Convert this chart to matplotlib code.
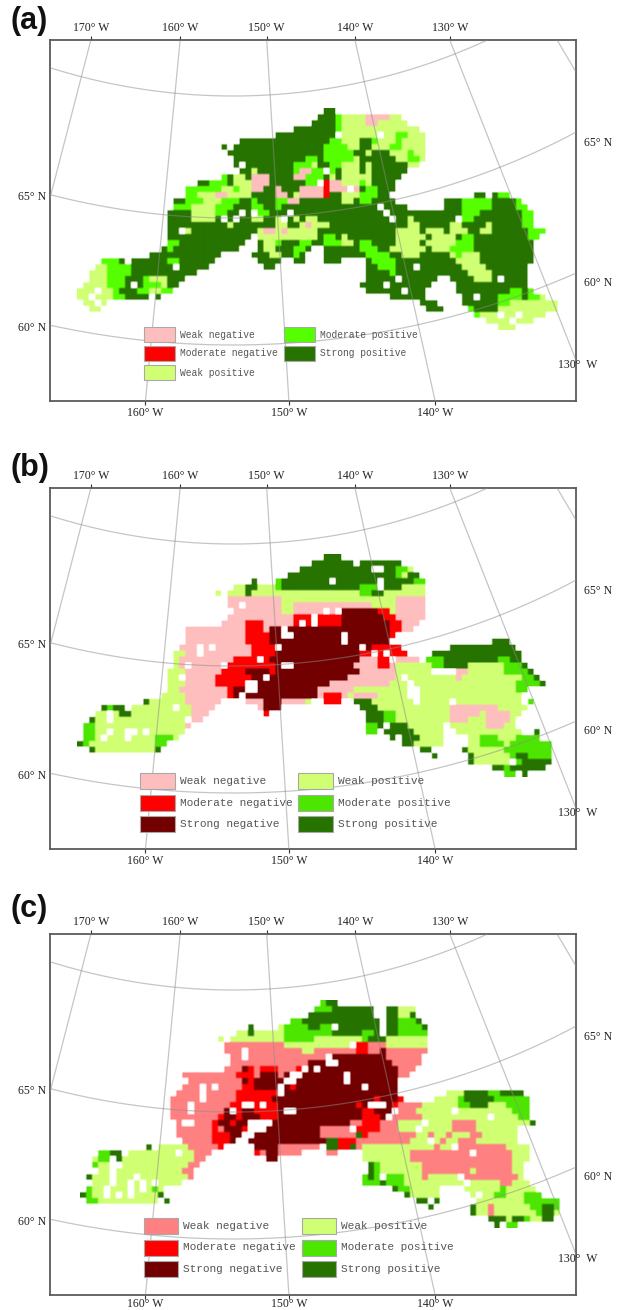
"""Three map panels of weak to strong negative/positive classes over a conic graticule."""
import re

import numpy as np
import matplotlib
matplotlib.use('Agg')
import matplotlib.pyplot as plt
from matplotlib.colors import to_rgb
from matplotlib.patches import Rectangle

# grid cells per row: class letter + column range, later tokens paint over earlier, w = no data
ROWS_A = [
    "f41-42",
    "f40-42 e43 d44-47 a48-51 d52-53",
    "f39-42 e43 d44-47 a48-49 d50-54",
    "f36-42 e43 d44-56",
    "f33-42 e43 d44-57 w43 e53-54 w50",
    "f29 f27-41 e42-43 d44-57 f47-48 e49 e53",
    "f24 f26-40 e41-44 d45-57 e47 f47-48 e52-53",
    "f25-40 e41-45 f46-47 d48 f49-51 d52-57 e55",
    "f26-40 e38-39 e41-45 d46 f47-52 d53-57 e55-56",
    "f26-54 w27 e36-38 d39 e42-43 d44-46 d48 d55-56",
    "f27-54 d29 e36-37 a37-38 e39-40 w41 e42 d44-46 d48",
    "f24-53 e24 d26-27 a29-31 a36-37 e38-40 d42 d44-46 d47-48",
    "f20-52 e22-24 d26-28 a29-31 e38-39 w40 b41 a42-43 d44-46 e47 d48",
    "f18-52 e18-23 d24-25 e26 d27-28 a29-30 a33 a37-40 b41 a42-46 w45 e48-49",
    "f18-51 e18-19 d20-22 a23-24 d25-28 a33-34 d36 a37-40 b41 d44-46 e47-49 f66-67 f69-71 e70-71",
    "f16-52 e18-20 d21-24 e24-26 e29 a33 a35-36 e33-34 d44-45 e47-48 f61-63 e64-68 f69-72 e73",
    "f16-54 e16-18 d19-24 e23-25 e29-30 e33 w50 f61-63 e64-68 f69-72 e73-74",
    "f15-73 d19-22 e23-24 w27 w29 e30-31 w35 w51 e64-66 e74-75",
    "f15-74 d19-22 w24 w26 d29-30 d33 d36 d38-39 w34 w52 d55 e64-65 w63 e74-75",
    "f15-75 d25 d33-34 d37-41 a38 d55-56 d62-63 d68 e74-75",
    "f15-76 d18 w17 d30-31 a31-32 d33-39 a34 d53-56 d58-60 d62-64 d67-68 e75-77",
    "f15-76 w29 d30-33 e34 d34-39 e41-42 d44 d53-57 d59-62 e64-65 e75-76",
    "f15-75 e15-16 w28-29 d31-32 e33 e37-38 e41-43 d44-45 e47-48 d53-56 d58-62 e63-65",
    "f14-26 e15 f30-38 d31-32 e36-37 f41-75 e47-49 d52-57 d59-62 e62-65",
    "f12-23 f29-37 f41-75 d32-33 e36 e48-51 d54-56 d62-66 e63",
    "e4-6 f7 f9-22 e15-16 f30-33 f36-37 f41-43 f48-75 e49-52 d63-66",
    "d3-4 e5-8 f9-21 w16 f31-32 f48-74 e50-52 w56 d64-67",
    "d2-4 e5-8 f9-19 f48-74 e52 d65-68",
    "d2-5 e5-8 f8-11 e11-15 d12-14 f15-17 f48-59 w53 f62-74 d66-68 w70",
    "d1-5 e5-7 f8-10 w9 e11-13 d14 f15-16 f47-58 w51 f63-74",
    "d0-5 w3 e6-7 f7-9 e10-15 d12-13 f48-57 w54 f63-74 e72-73 e75",
    "d0-5 w2 e6-8 f8-11 f13 f52-57 f64-75 w66 e70-73 e75-76 d77",
    "d1-4 w3 f57-59 f64-72 e70-72 d72-79",
    "d2-3 f58-60 e65-66 f66-70 d70-79",
    "e66-67 d67-77 w70 w73",
    "d68-75 w72",
    "d70-72",
]
ROWS_B = [
    "f41-43",
    "f39-45 f47-53",
    "f37-52 w49-50 e53-54 d55",
    "f35-52 e53-54 d54-55 f55-56",
    "f29 e33 f34-55 w42 w50 e56-57",
    "d26-27 f28-29 d30-32 e33 f34-46 e47-49 f50-53 w50 d54-57",
    "d23 d25-27 f28 d29-33 d34-46 e47-48 d49-57 f49-50",
    "a25-33 d34-57 a53-57",
    "a25-33 w27 d34-35 a36-48 d49-52 a53-57",
    "a26-33 d34-35 a36-42 w41 c44-49 b50-51 d52 a53-57",
    "a25-35 b36-42 w39 b42-43 c44-50 b51 a52 b52-53 a53-57",
    "a24-28 b28-30 a31-35 b36-41 w37 w39 a42 b42-43 c44-51 b52-53 a54-56",
    "a18-28 b28-31 a31-32 c32-34 w34 c35-51 b52-53 a54-55",
    "a18-28 b28-31 c32-51 w34-35 w44 b52",
    "a18-28 b28-32 c32-51 w44 f69-71",
    "a17-28 w20 w22 b29-32 c33-48 w33 w47 b49-53 f62-72",
    "d16-17 a18-28 w20 b29-32 c33-47 b47-54 w49 w51 f59-73",
    "d16 a17-25 b26-31 w30 c32-46 a47-52 b50-51 w52 a53-56 e58-60 f61-73 e70-71",
    "d16-17 a17-25 w18 w24 b25-33 c33-46 w34-35 a46-52 b50-51 d53-59 e59-60 f61-64 d65-70 e71-73 f74",
    "d15-17 a18-23 b24-32 c28-31 c33-46 a47-52 d53-73 a63-64 w59-62 e71-74 f75",
    "d15-17 w17 a18-23 b23-29 c29-31 w31 c32-44 a45-52 d53-73 w54 a63 e74-75 f76",
    "d15-17 a18-23 b23-27 w28-29 c30-32 c33-42 a42-51 d52-73 w55 e73-76 f77",
    "d15-17 a17-24 b25 c26-27 w28-29 c30-39 a40-47 d46-74 w55-56 e73-74",
    "d14-18 a18-24 b25 c26 c28-39 a40 b41-43 a44 d45-46 a46-50 d50-73 w55-56",
    "f11 d12-18 a18-23 a28-30 c31-33 a34-37 d38 b41-43 f46-48 d49-73 w56 w62 e75",
    "f4-5 e5-6 f6-7 d9-18 w16 a19-22 a30-31 c31-33 f47-49 d50-74 a62-66 a67-69 d70-74",
    "d3-8 e5 f7-8 d9-18 w5 a19-21 b31 f48-51 e51-52 d53-73 a62-66 a68-71",
    "f2 d3-17 w5 a19-20 f48-51 e51-52 d53-72 a62-64 a68-71",
    "e1-2 d3-17 a18 e48-49 f50-54 w51 d55-60 d62-72 a68-70",
    "f1 e1-2 d3-17 w5 w8 w9 w11 e48-50 w50 f51-55 d56-60 d63-73 f76",
    "e1-2 d3-12 w4 w8 e13-15 d16 f52-56 w53 d57-60 d65-72 e67-69 e73-76",
    "f0 e1 d2-12 e13-14 f54-55 d56-60 d65-72 e67-70 e72-78",
    "e2 f2 d3-12 f13 f57-58 f64 d65-70 e71-73 e74-78",
    "f59 f65 d66-71 e72 f73 f74-75 e75-78",
    "f65 d66-71 e73 f74-78",
    "f69-71 e71-72 f72-75 f76-77",
    "f71 e71-72 f74",
]
ROWS_C = [
    "e40-41 f41-42",
    "e39-41 f42-45 f46-53 w49-50 d53-55",
    "e38-39 f38-52 w49-50 d53-55 f55",
    "e35-37 f37-52 e53-56 f56 w50",
    "f28 d33 e34-37 f38-52 e40-42 w42 w50 e53-56 f57",
    "d26-33 f28 e34-41 f42-48 e47-49 f49-52 w50 e53-57",
    "d23 d25-33 e34-38 d39-47 e47-48 f48-50 d51-57",
    "a24-33 d34-44 b46-47 a48-50 d51-57",
    "a24-33 w27 a34-36 d37-38 a39-47 b46-47 a48-50 c50 a51-57",
    "a25-33 w27 a34-40 w41 w42 c42-50 a51-56",
    "a25-37 c38-51 w41 w42 a52-56",
    "a24-26 c27 b28 a29 b30-32 a33-35 b36 c37-52 w37 w39 a53-55",
    "a17-26 b26-28 a29 c30-33 a33 c34-52 w35-36 w44 b53 a53-54",
    "a18-25 b26 a26 c27-28 b28 c29-52 w34-35 w44",
    "a17-27 w20 w22 b27-28 c29-52 b35 w47 w33",
    "a16-26 w20 b26-33 c33-52 w33 d61-64 f64-68 e68-70 f70-73",
    "a15-26 w20 b26-31 c32-49 b49 w50 c50-52 b53 d59-63 e63 f64-68 e69-74",
    "a15-25 w18 b25-26 c27-28 w27 b28-32 w28 w30 c33-47 b46 w50 c51 b52 a53-56 d57-62 e63-64 f65-67 d68-71 e71-74",
    "a15-23 w18 w24 c24-29 w25 b26 b29-32 c33-46 w34-35 b47-48 c49-51 w52 a53-55 d56-72 w62 e72-74",
    "a15-22 b23 c24-29 b26 b30-32 c33-46 b47-49 c50 a52-56 d57-73 w68 e73-74",
    "a16-21 w17 w18 b22 c23-27 b25 w29-31 c32-44 b45 a45-46 b47-49 a50-52 d53-74 a62-65 d68 w57 f75",
    "a16-23 b22 c24-27 b27 w28-30 c31-39 a40-44 b46-49 a50-52 d53-72 a62-65 w56",
    "a16-23 b22-24 c25-26 w28 c29-39 a40-47 f46 b47-48 a48-55 d56-72 a58 a61 a65-66",
    "a17-23 b22-24 c25 c28-39 c40 f41-42 b43-46 a46-54 d55-72 a60 w58 a63 a64-65",
    "f11 d13-18 a18-22 b23 c29-33 a33-39 f41-42 b43-44 a45-47 f45 d47-74 a59 a62-66 w62 a67-70",
    "e3-5 f5-6 d8-18 w16 a19-21 b29 a30 c31-32 a33-36 a41-42 d47-54 a55-71 w65 d72-74",
    "d2-7 e3-5 f5-6 w5 d8-18 a19-20 a31 c31-32 d47-54 a55-71 d72-74",
    "e2 d3-18 w5 w6 a18-19 f48-49 e49 d50-56 a57-71 d72-73",
    "d3-17 w5 a17-18 f48-49 e49 d50-56 a57-69 d65 a70-71 d72-73",
    "f1 d2-17 w5 w9 a18 e47-49 f48 w50 e51-53 d54-56 a57 d58-62 a64-69 d70-71 a70-72 d73",
    "d2-16 w5 w8 w10 w12 e47-49 w50 f50-51 e51-53 d54-58 d59-63 d65-70 a70-71 d72-74",
    "f1 e1 d2-13 w4 w8 w10 e12 f52-53 e53-54 d55-59 d64-75 e70",
    "f0 e1 d2-12 w4 w6 w8 e13 f13 f54-55 d55-59 d65-75 e69-70 w66 e74-76",
    "e1-2 d3-12 f14 f56-57 f59 d66-76 e74-75 e76-79",
    "f58 f65 d66-77 a68 e75-77 f77-78 e79",
    "f65 d66-77 a68 e76-78 f77-79 d79",
    "f68-70 d71-78 f72-74 e74 f77-78",
    "f69-71 w70 e71-72",
]
ROWS_PANELS = [ROWS_A, ROWS_B, ROWS_C]

PANEL_LETTERS = ['(a)', '(b)', '(c)']
LETTER_Y = [21, 468, 909]
PANEL_TOPS = [40, 488, 934]
GRID_ORIGINS = [(76.7, 108.3), (76.7, 555.0), (80.0, 1000.0)]

CLASS_KEYS = 'abcdef'
CLASS_NAMES = ['Weak negative', 'Moderate negative', 'Strong negative',
               'Weak positive', 'Moderate positive', 'Strong positive']
COLORS_A = ['#FFBEBE', '#FF0000', '#730000', '#D1FF73', '#55FF00', '#267300']
COLORS_B = ['#FFBEBE', '#FF0000', '#730000', '#D1FF73', '#4CE600', '#267300']
COLORS_C = ['#FF8080', '#FF0000', '#730000', '#D1FF73', '#4CE600', '#267300']
COLORS_PANELS = [COLORS_A, COLORS_B, COLORS_C]

LEGEND_ORDER = [['a', 'b', 'd', 'e', 'f'],
                ['a', 'b', 'c', 'd', 'e', 'f'],
                ['a', 'b', 'c', 'd', 'e', 'f']]
LEGEND_ROWS = [[0, 1, 2, 0, 1], [0, 1, 2, 0, 1, 2], [0, 1, 2, 0, 1, 2]]
LEGEND_COLS = [[0, 0, 0, 1, 1], [0, 0, 0, 1, 1, 1], [0, 0, 0, 1, 1, 1]]
LEGEND_X = [(144, 284), (140, 298), (144, 302)]
LEGEND_Y = [327, 773, 1218]
LEGEND_W = [31, 35, 34]
LEGEND_H = [15, 16, 16]
LEGEND_STEP = [19, 21.5, 21.5]

MERIDIANS = [-170, -160, -150, -140, -130, -120]
TOP_LABELS = ['170° W', '160° W', '150° W', '140° W', '130° W']
BOTTOM_LONS = [-160, -150, -140]
PARALLELS = [60, 65, 70]
BOTTOM_PADS = [1, 1, -1]

FIG_W, FIG_H = 625, 1310
LEFT, RIGHT = 50, 576
PANEL_H = 361
CELL = 6.0
# conic graticule measured in pixels of panel (a)
POLE_X, POLE_Y = 233.0, -510.0
CENTRAL_LON = -153.9
CONE = 0.9
RADII = {60: 855.0, 65: 728.0, 70: 606.0}

plt.rcParams['font.family'] = ['Liberation Serif', 'DejaVu Serif']


def paint_rows(rows):
    """Turn the row strings into a grid of class indices (-1 = empty)."""
    grid = -np.ones((len(rows), 81), dtype=int)
    for r, row in enumerate(rows):
        for token in row.split():
            m = re.fullmatch(r'([a-fw])(\d+)(?:-(\d+))?', token)
            start = int(m.group(2))
            stop = int(m.group(3) or start)
            value = -1 if m.group(1) == 'w' else CLASS_KEYS.index(m.group(1))
            grid[r, start:stop + 1] = value
    return grid


def grid_to_rgba(grid, colors):
    rgba = np.ones(grid.shape + (4,))
    rgba[..., 3] = 0
    for i, c in enumerate(colors):
        rgba[grid == i] = to_rgb(c) + (1,)
    rgba[rgba[..., 3] == 0, :3] = 1
    # upsample a little so the bilinear filter only softens the cell edges
    return np.repeat(np.repeat(rgba, 3, axis=0), 3, axis=1)


def meridian_xy(lon, y_top, radius=np.array([400.0, 1100.0])):
    theta = np.radians(CONE * (lon - CENTRAL_LON))
    return POLE_X + radius * np.sin(theta), POLE_Y + radius * np.cos(theta) + y_top - 40


def meridian_x_at(lon, y_panel):
    theta = np.radians(CONE * (lon - CENTRAL_LON))
    return POLE_X + (y_panel - POLE_Y) * np.tan(theta)


def draw_panel(fig, i):
    top = PANEL_TOPS[i]
    bottom = top + PANEL_H
    ax = fig.add_axes([LEFT / FIG_W, 1 - bottom / FIG_H,
                       (RIGHT - LEFT) / FIG_W, PANEL_H / FIG_H])
    grid = paint_rows(ROWS_PANELS[i])
    x0, y0 = GRID_ORIGINS[i]
    ax.imshow(grid_to_rgba(grid, COLORS_PANELS[i]), interpolation='bilinear', aspect='auto',
              extent=(x0, x0 + CELL * grid.shape[1], y0 + CELL * grid.shape[0], y0), zorder=2)

    line_kw = dict(color='#8c8c8c', lw=0.9, alpha=0.5, zorder=3)
    for lon in MERIDIANS:
        ax.plot(*meridian_xy(lon, top), **line_kw)
    phi = np.radians(np.linspace(-45, 45, 200))
    for lat in PARALLELS:
        ax.plot(POLE_X + RADII[lat] * np.sin(phi),
                POLE_Y + RADII[lat] * np.cos(phi) + top - 40, **line_kw)

    ax.set_xlim(LEFT, RIGHT)
    ax.set_ylim(bottom, top)
    for spine in ax.spines.values():
        spine.set_color('#5a5a5a')
        spine.set_linewidth(1.3)

    ax.set_xticks([meridian_x_at(lon, 40) for lon in MERIDIANS[:5]], TOP_LABELS)
    ax.xaxis.tick_top()
    ax.tick_params(axis='x', length=3, width=0.8, color='#333333', pad=1.5, labelsize=8.5,
                   labelcolor='#222222')
    sec = ax.secondary_xaxis('bottom')
    sec.set_xticks([meridian_x_at(lon, 401) for lon in BOTTOM_LONS],
                   [f'{-lon}° W' for lon in BOTTOM_LONS])
    sec.tick_params(length=3, width=0.8, color='#333333', pad=BOTTOM_PADS[i], labelsize=8.5,
                    labelcolor='#222222')
    for s in sec.spines.values():
        s.set_visible(False)
    ax.set_yticks([])

    # outside labels of the parallels, plus the one meridian label on the right
    off = top - 40
    ax.text(46, 197 + off, '65° N', ha='right', va='center', fontsize=8.5, color='#222222')
    ax.text(46, 328 + off, '60° N', ha='right', va='center', fontsize=8.5, color='#222222')
    ax.text(584, 143 + off, '65° N', ha='left', va='center', fontsize=8.5, color='#222222', clip_on=False)
    ax.text(584, 283 + off, '60° N', ha='left', va='center', fontsize=8.5, color='#222222', clip_on=False)
    ax.text(578, 365 + off, '130°  W', ha='center', va='center', fontsize=8.5, color='#222222', zorder=6,
            clip_on=False)

    # legend
    w, h, step = LEGEND_W[i], LEGEND_H[i], LEGEND_STEP[i]
    for key, row, col in zip(LEGEND_ORDER[i], LEGEND_ROWS[i], LEGEND_COLS[i]):
        idx = CLASS_KEYS.index(key)
        x = LEGEND_X[i][col]
        y = LEGEND_Y[i] + row * step
        ax.add_patch(Rectangle((x, y), w, h, facecolor=COLORS_PANELS[i][idx],
                               edgecolor='#a8a8a8', lw=0.8, zorder=4))
        ax.text(x + w + 5, y + h / 2, CLASS_NAMES[idx], family=['Liberation Mono', 'DejaVu Sans Mono'],
                fontsize=6.9 if i == 0 else 8.0, color='#555555', va='center', ha='left', zorder=5)

    fig.text(10 / FIG_W, 1 - LETTER_Y[i] / FIG_H, PANEL_LETTERS[i], family=['Liberation Sans', 'DejaVu Sans'],
             fontsize=22, fontweight='bold', color='#111111', va='center', ha='left')


def make_figure():
    fig = plt.figure(figsize=(FIG_W / 100, FIG_H / 100), dpi=100, facecolor='white')
    for i in range(3):
        draw_panel(fig, i)
    fig.savefig('out.png', dpi=100)


if __name__ == '__main__':
    make_figure()
